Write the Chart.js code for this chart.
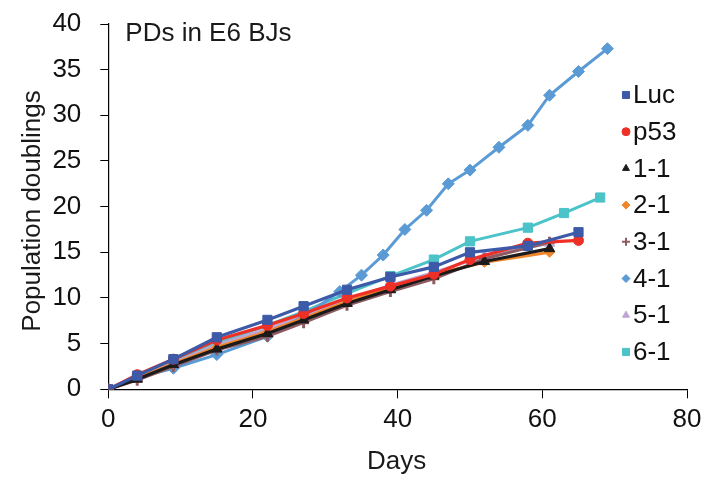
<!DOCTYPE html>
<html>
<head>
<meta charset="utf-8">
<script src="https://cdn.jsdelivr.net/npm/chart.js@4.4.1/dist/chart.umd.min.js"></script>
<style>
  html, body { margin: 0; padding: 0; background: #fff; }
</style>
</head>
<body>
<canvas id="pd-chart" width="710" height="487"></canvas>
<script>
const chartTitle = "PDs in E6 BJs";
const xTitle = "Days";
const yTitle = "Population doublings";

const seriesNames = ["Luc", "p53", "1-1", "2-1", "3-1", "4-1", "5-1", "6-1"];

// days of each passage
const lucDays = [0, 4, 9, 15, 22, 27, 33, 39, 45, 50, 58, 65];
const p53Days = [0, 4, 9, 15, 22, 27, 33, 39, 45, 50, 58, 65];
const cloneDays = [0, 4, 9, 15, 22, 27, 33, 39, 45, 52, 61];
const days41 = [0, 4, 9, 15, 22, 27, 32, 35, 38, 41, 44, 47, 50, 54, 58, 61, 65, 69];
const days61 = [0, 4, 9, 15, 22, 27, 33, 39, 45, 50, 58, 63, 68];

// population doublings
const pdLuc = [0, 1.5, 3.3, 5.7, 7.6, 9.1, 10.9, 12.3, 13.4, 15.0, 15.7, 17.2];
const pdP53 = [0, 1.6, 3.3, 5.4, 7.0, 8.3, 10.0, 11.3, 12.6, 14.2, 16.0, 16.3];
const pd11 = [0, 1.1, 2.7, 4.4, 6.1, 7.6, 9.4, 10.9, 12.4, 14.0, 15.4];
const pd21 = [0, 1.2, 2.8, 4.6, 6.3, 7.8, 9.6, 11.1, 12.6, 13.9, 15.0];
const pd31 = [0, 1.0, 2.5, 4.3, 5.8, 7.3, 9.2, 10.7, 12.1, 14.3, 16.1];
const pd41 = [0, 1.3, 2.3, 3.8, 5.8, 8.0, 10.7, 12.5, 14.7, 17.5, 19.6, 22.5, 24.0, 26.5, 28.9, 32.2, 34.8, 37.3];
const pd51 = [0, 1.3, 2.9, 4.9, 6.6, 8.0, 9.8, 11.4, 12.8, 14.6, 16.0];
const pd61 = [0, 1.4, 3.1, 5.1, 7.0, 8.5, 10.5, 12.4, 14.2, 16.2, 17.7, 19.3, 21.0];

const xTicks = [0, 20, 40, 60, 80];
const yTicks = [0, 5, 10, 15, 20, 25, 30, 35, 40];

const FONT = '"Liberation Sans", Arial, sans-serif';

function pts(days, vals) {
  return days.map((d, i) => ({ x: d, y: vals[i] }));
}

function series(label, days, vals, color, style, radius, width) {
  return {
    label,
    data: pts(days, vals),
    borderColor: color,
    backgroundColor: color,
    pointBackgroundColor: color,
    pointBorderColor: color,
    pointStyle: style,
    pointRadius: radius,
    pointHoverRadius: radius,
    pointBorderWidth: style === "cross" ? 3 : 1,
    borderWidth: width,
    tension: 0,
  };
}

const datasets = [
  series(seriesNames[0], lucDays, pdLuc, "#3c5aa8", "rect", 6.5, 3.2),
  series(seriesNames[1], p53Days, pdP53, "#ef3027", "circle", 5, 3.2),
  series(seriesNames[2], cloneDays, pd11, "#1c1a1a", "triangle", 6, 3.2),
  series(seriesNames[3], cloneDays, pd21, "#f0862a", "rectRot", 5, 3),
  series(seriesNames[4], cloneDays, pd31, "#8d5c62", "cross", 5.5, 3),
  series(seriesNames[5], days41, pd41, "#5b9bd5", "rectRot", 6, 3),
  series(seriesNames[6], cloneDays, pd51, "#bca6d3", "triangle", 6, 3),
  series(seriesNames[7], days61, pd61, "#4bc3c8", "rect", 6.5, 3),
];

// title, axis titles and the legend are drawn by hand
const overlay = {
  id: "overlay",
  afterDraw(chart) {
    const ctx = chart.ctx;
    const area = chart.chartArea;
    ctx.save();
    ctx.fillStyle = "#1a1a1a";
    ctx.font = "26px " + FONT;
    ctx.textBaseline = "middle";
    ctx.textAlign = "left";
    ctx.fillText(chartTitle, area.left + 17, 34);

    ctx.textAlign = "center";
    ctx.fillText(xTitle, (area.left + area.right) / 2 - 1, 462);

    ctx.save();
    ctx.translate(33, 211);
    ctx.rotate(-Math.PI / 2);
    ctx.fillText(yTitle, 0, 0);
    ctx.restore();

    // legend
    ctx.textAlign = "left";
    chart.data.datasets.forEach((ds, i) => {
      const y = 95 + i * 36.7;
      ctx.fillStyle = ds.backgroundColor;
      ctx.strokeStyle = ds.borderColor;
      ctx.lineWidth = ds.pointStyle === "cross" ? 2 : 1;
      Chart.helpers.drawPoint(ctx, {
        pointStyle: ds.pointStyle,
        radius: ds.pointStyle === "rect" ? 5 : 4,
        rotation: 0,
        borderWidth: ctx.lineWidth,
      }, 626, y);
      ctx.fillStyle = "#111";
      ctx.fillText(ds.label, 633, y + 1);
    });
    ctx.restore();
  },
};

new Chart(document.getElementById("pd-chart"), {
  type: "line",
  data: { datasets },
  options: {
    responsive: false,
    animation: false,
    events: [],
    layout: { padding: { left: 0, right: 23, top: 24, bottom: 0 } },
    plugins: {
      legend: { display: false },
      tooltip: { enabled: false },
    },
    scales: {
      x: {
        type: "linear",
        min: 0,
        max: 80,
        afterBuildTicks: (axis) => { axis.ticks = xTicks.map((v) => ({ value: v })); },
        afterFit: (axis) => {
          axis.height = 97.7;
          axis.paddingLeft = 0;
          axis.paddingRight = 0;
        },
        grid: { display: true, drawOnChartArea: false, color: "#000", tickLength: 9 },
        border: { color: "#000", width: 1.2 },
        ticks: { color: "#111", font: { size: 26, family: FONT }, padding: 6, maxRotation: 0 },
      },
      y: {
        min: 0,
        max: 40,
        afterBuildTicks: (axis) => { axis.ticks = yTicks.map((v) => ({ value: v })); },
        afterFit: (axis) => {
          axis.width = 108.3;
          axis.paddingTop = 0;
          axis.paddingBottom = 0;
        },
        grid: { display: true, drawOnChartArea: false, color: "#000", tickLength: 8 },
        border: { color: "#000", width: 1.2 },
        ticks: { color: "#111", font: { size: 26, family: FONT }, padding: 19 },
      },
    },
  },
  plugins: [overlay],
});
</script>
</body>
</html>
